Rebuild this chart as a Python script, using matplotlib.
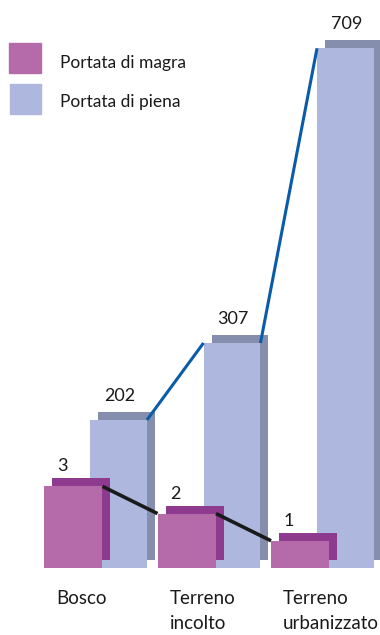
import matplotlib
matplotlib.use("Agg")
import matplotlib.pyplot as plt
from matplotlib.patches import Rectangle
from matplotlib.transforms import offset_copy

plt.rcParams['font.family'] = ['Lato', 'DejaVu Sans']

categories = ["Bosco", "Terreno\nincolto", "Terreno\nurbanizzato"]
magra = [3, 2, 1]
piena = [202, 307, 709]
legend_labels = ["Portata di magra", "Portata di piena"]

c_piena = "#AEB8DF"
c_piena_sh = "#858FAD"
c_magra = "#B56AAA"
c_magra_sh = "#8E3A8F"
c_line_piena = "#0A5CA8"
c_line_magra = "#1A1A1A"
c_text = "#1A1A1A"

W, H = 380, 635
fig = plt.figure(figsize=(W / 100, H / 100), dpi=100)
ax = fig.add_axes([0, 0, 1, 1])
ax.set_xlim(-0.388, 2.960)
ax.set_ylim(-91.4, 774.9)
ax.axis("off")
ax2 = ax.twinx()
ax2.set_ylim(-2.463, 20.88)
ax2.axis("off")

x = list(range(len(categories)))
w_m = 0.515
off_p = 0.405
w_p = 0.502
xp = [i + off_p for i in x]

sh1 = offset_copy(ax.transData, fig=fig, x=8, y=8, units="dots")
sh2 = offset_copy(ax2.transData, fig=fig, x=8, y=8, units="dots")

# piena bars (back)
bs = ax.bar(xp, piena, width=w_p, align="edge", color=c_piena_sh, zorder=1)
for p in bs:
    p.set_transform(sh1)
ax.bar(xp, piena, width=w_p, align="edge", color=c_piena, zorder=2)
for i in range(len(x) - 1):
    ax.plot([xp[i] + w_p, xp[i + 1]], [piena[i], piena[i + 1]],
            color=c_line_piena, lw=2.2, zorder=3, solid_capstyle="butt")
for i, v in enumerate(piena):
    ax.annotate(str(v), (xp[i] + w_p / 2, v), xytext=(1, 19),
                textcoords="offset pixels", ha="center", va="baseline",
                fontsize=13, color=c_text)

# magra bars (front)
ms = ax2.bar(x, magra, width=w_m, align="edge", color=c_magra_sh, zorder=1)
for p in ms:
    p.set_transform(sh2)
ax2.bar(x, magra, width=w_m, align="edge", color=c_magra, zorder=2)
for i in range(len(x) - 1):
    ax2.plot([x[i] + w_m, x[i + 1]], [magra[i], magra[i + 1]],
             color=c_line_magra, lw=2.6, zorder=3, solid_capstyle="butt")
for i, v in enumerate(magra):
    ax2.annotate(str(v), (x[i], v), xytext=(18, 15),
                 textcoords="offset pixels", ha="center", va="baseline",
                 fontsize=13, color=c_text)

# category labels
for i, c in enumerate(categories):
    ax2.annotate(c, (x[i], 0), xytext=(12, -22), textcoords="offset pixels",
                 ha="left", va="top", fontsize=13.5, color=c_text,
                 linespacing=1.6)

# legend
def fx(px):
    return px / W

def fy(py):
    return 1 - py / H

fig.patches.append(Rectangle((fx(9), fy(73)), 32 / W, 30 / H, color=c_magra,
                             transform=fig.transFigure, figure=fig))
fig.patches.append(Rectangle((fx(10), fy(114)), 31 / W, 30 / H, color=c_piena,
                             transform=fig.transFigure, figure=fig))
fig.text(fx(60), fy(68), legend_labels[0], fontsize=12.5, color=c_text,
         ha="left", va="baseline")
fig.text(fx(60), fy(107), legend_labels[1], fontsize=12.5, color=c_text,
         ha="left", va="baseline")

fig.savefig("out.png", dpi=100)
